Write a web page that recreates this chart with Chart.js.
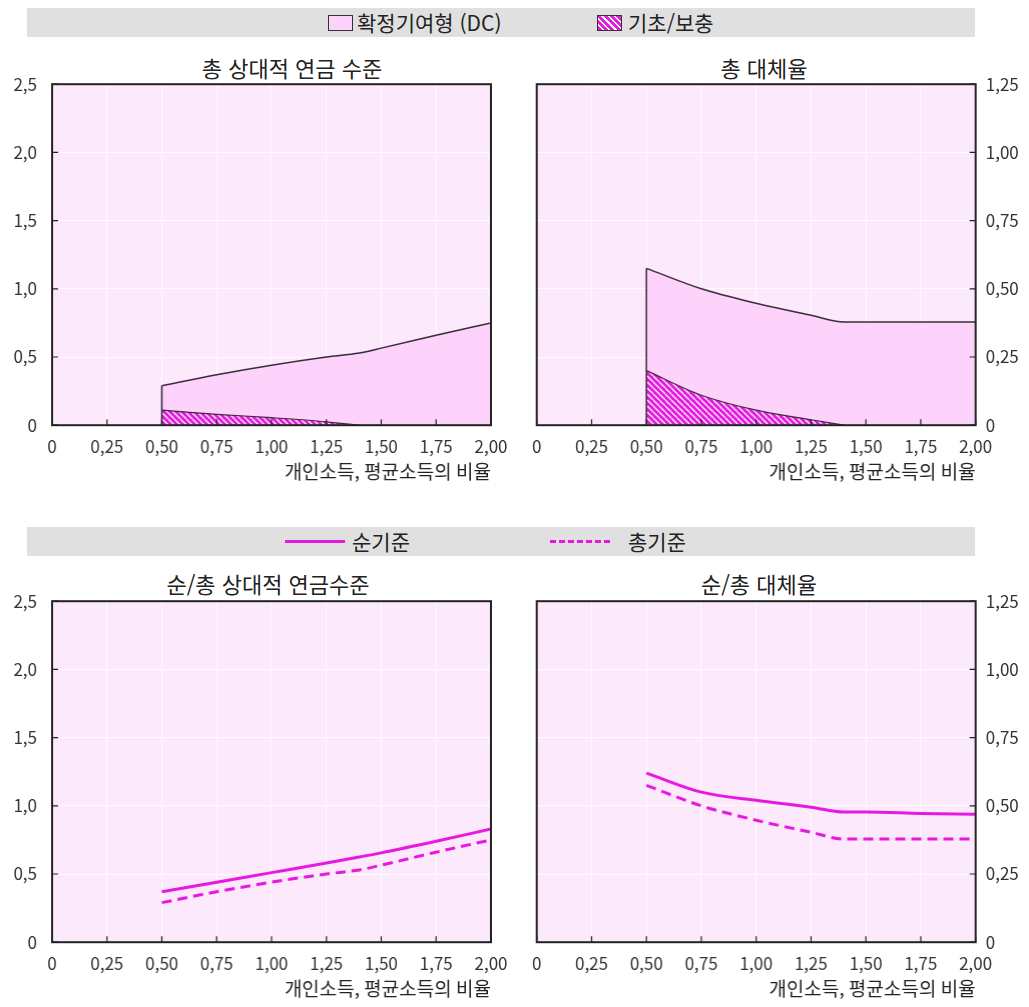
<!DOCTYPE html>
<html lang="ko">
<head>
<meta charset="utf-8">
<script src="https://cdn.jsdelivr.net/npm/chart.js@4.4.1/dist/chart.umd.min.js"></script>
<style>
  body { margin: 0; width: 1029px; height: 1007px; background: #fff; position: relative; overflow: hidden;
         font-family: "Noto Sans CJK KR", "Noto Sans", sans-serif; color: #222; }
  .band { position: absolute; left: 27px; width: 948px; height: 29px; background: #e0e0e0; }
  .lg { position: absolute; top: 0; height: 29px; line-height: 29px; font-size: 21px; white-space: nowrap; }
  .box { position: absolute; top: 7px; width: 23px; height: 14px; border: 1px solid #333; }
  .dc { background: #fdd3fb; }
  .hatch { background: repeating-linear-gradient(45deg, #e21fdc 0 3px, #fff 3px 4.5px); }
  .ln { position: absolute; top: 13px; width: 60px; height: 0; }
  .title { position: absolute; width: 438px; text-align: center; font-size: 22px; line-height: 26px; }
  .wrap { position: absolute; }
</style>
</head>
<body>
<div class="band" style="top:8px">
  <div class="box dc" style="left:301px"></div>
  <div class="lg" style="left:330px">확정기여형 (DC)</div>
  <div class="box hatch" style="left:570px"></div>
  <div class="lg" style="left:601px">기초/보충</div>
</div>
<div class="band" style="top:527px">
  <div class="ln" style="left:258px;border-top:3px solid #e619e0"></div>
  <div class="lg" style="left:325px">순기준</div>
  <div class="ln" style="left:523px;border-top:3px dashed #e619e0"></div>
  <div class="lg" style="left:601px">총기준</div>
</div>

<div class="title" style="left:73px;top:54px">총 상대적 연금 수준</div>
<div class="title" style="left:545px;top:54px">총 대체율</div>
<div class="title" style="left:49px;top:570px">순/총 상대적 연금수준</div>
<div class="title" style="left:540px;top:570px">순/총 대체율</div>

<div class="wrap" id="w1" style="left:0;top:74px;width:500px;height:411px"><canvas id="c1"></canvas></div>
<div class="wrap" id="w2" style="left:527px;top:74px;width:502px;height:411px"><canvas id="c2"></canvas></div>
<div class="wrap" id="w3" style="left:0;top:591px;width:500px;height:411px"><canvas id="c3"></canvas></div>
<div class="wrap" id="w4" style="left:527px;top:591px;width:502px;height:411px"><canvas id="c4"></canvas></div>

<script>
// 개인소득 (평균소득 대비)
const incomeX = [0.5, 0.75, 1.0, 1.25, 1.4, 1.5, 1.75, 2.0];

// 총 상대적 연금 수준
const grossLevel = [0.29, 0.37, 0.44, 0.50, 0.53, 0.565, 0.66, 0.75];
const basicLevel = [0.11, 0.08, 0.055, 0.025, 0];
// 총 대체율
const grossRate = [0.575, 0.50, 0.447, 0.403, 0.378, 0.378, 0.378, 0.378];
const basicRate = [0.20, 0.11, 0.055, 0.02, 0];
// 순기준
const netLevel = [0.37, 0.44, 0.51, 0.58, 0.625, 0.655, 0.74, 0.83];
const netRate = [0.62, 0.55, 0.52, 0.495, 0.477, 0.477, 0.472, 0.469];

const xTicks = [0, 0.25, 0.5, 0.75, 1.0, 1.25, 1.5, 1.75, 2.0];
const levelTicks = [0, 0.5, 1.0, 1.5, 2.0, 2.5];
const rateTicks = [0, 0.25, 0.5, 0.75, 1.0, 1.25];

const MAGENTA = '#e619e0';
const DC_FILL = '#fdd3fb';
const PLOT_BG = '#fde9fc';
const EDGE = '#3a2b3a';
const FONT = '"Noto Sans CJK KR", "Noto Sans", sans-serif';

const pts = (xs, ys) => ys.map((y, i) => ({ x: xs[i], y }));
const comma = (v, d) => v === 0 ? '0' : v.toFixed(d).replace('.', ',');

function hatchPattern() {
  const c = document.createElement('canvas');
  c.width = 6; c.height = 6;
  const g = c.getContext('2d');
  g.fillStyle = MAGENTA;
  g.fillRect(0, 0, 6, 6);
  g.strokeStyle = '#ffffff';
  g.lineWidth = 1.3;
  for (let k = -6; k <= 12; k += 6) {
    g.beginPath();
    g.moveTo(k, 0);
    g.lineTo(k + 6, 6);
    g.stroke();
  }
  return g.createPattern(c, 'repeat');
}

const plotBg = {
  id: 'plotBg',
  beforeDraw(chart) {
    const { ctx, chartArea: a } = chart;
    ctx.save();
    ctx.fillStyle = PLOT_BG;
    ctx.fillRect(a.left, a.top, a.width, a.height);
    ctx.restore();
  }
};

const frame = {
  id: 'frame',
  afterDatasetsDraw(chart) {
    const { ctx, chartArea: a, scales } = chart;
    ctx.save();
    ctx.strokeStyle = '#222';
    ctx.lineWidth = 1.2;
    // inward ticks
    ctx.beginPath();
    scales.x.ticks.forEach(t => {
      const px = scales.x.getPixelForValue(t.value);
      ctx.moveTo(px, a.bottom);
      ctx.lineTo(px, a.bottom - 6);
    });
    const onRight = scales.y.position === 'right';
    scales.y.ticks.forEach(t => {
      const py = scales.y.getPixelForValue(t.value);
      const ex = onRight ? a.right : a.left;
      ctx.moveTo(ex, py);
      ctx.lineTo(onRight ? ex - 6 : ex + 6, py);
    });
    ctx.stroke();
    ctx.lineWidth = 2;
    ctx.strokeRect(a.left, a.top, a.width, a.height);
    ctx.restore();
  }
};

function makeOptions(side, yMax, yTicks, yDec) {
  return {
    responsive: true,
    maintainAspectRatio: false,
    animation: false,
    layout: { padding: 0 },
    plugins: { legend: { display: false }, tooltip: { enabled: false } },
    elements: { point: { radius: 0 } },
    scales: {
      x: {
        type: 'linear', min: 0, max: 2,
        afterBuildTicks: s => { s.ticks = xTicks.map(v => ({ value: v })); },
        afterFit: s => { s.height = 62; },
        grid: { color: 'rgba(255,255,255,0.85)', drawTicks: false },
        border: { display: false },
        ticks: { padding: 11, color: '#333', font: { family: FONT, size: 17 },
                 callback: v => comma(v, 2) },
        title: { display: true, align: 'end', text: '개인소득, 평균소득의 비율', color: '#222',
                 padding: { top: 0 }, font: { family: FONT, size: 19 } }
      },
      y: {
        type: 'linear', position: side, min: 0, max: yMax,
        afterBuildTicks: s => { s.ticks = yTicks.map(v => ({ value: v })); },
        afterFit: s => { s.width = side === 'left' ? 52 : 54; },
        grid: { color: 'rgba(255,255,255,0.85)', drawTicks: false },
        border: { display: false },
        ticks: { padding: side === 'left' ? 15 : 10, color: '#333', font: { family: FONT, size: 17 },
                 callback: v => comma(v, yDec) }
      }
    }
  };
}

// move the wrapper so the plot area lands on the target box
function place(chart, wrapId, box) {
  const w = document.getElementById(wrapId);
  const a = chart.chartArea;
  const W = w.clientWidth, H = w.clientHeight;
  const left = box[0] - a.left, top = box[1] - a.top;
  w.style.left = left + 'px';
  w.style.top = top + 'px';
  w.style.width = (box[2] + (W - a.right) - left) + 'px';
  w.style.height = (box[3] + (H - a.bottom) - top) + 'px';
  chart.resize();
}

function areaChart(id, side, yMax, yTicks, yDec, total, basic) {
  return new Chart(document.getElementById(id), {
    type: 'line',
    data: {
      datasets: [
        { data: [{ x: incomeX[0], y: 0 }, { x: incomeX[0], y: total[0] }],
          borderColor: EDGE, borderWidth: 1.5, fill: false, order: 0 },
        { data: pts(incomeX, basic), borderColor: EDGE, borderWidth: 1.2,
          backgroundColor: hatchPattern(), fill: 'origin', cubicInterpolationMode: 'monotone', order: 1 },
        { data: pts(incomeX, total), borderColor: EDGE, borderWidth: 1.5,
          backgroundColor: DC_FILL, fill: 'origin', cubicInterpolationMode: 'monotone', order: 2 }
      ]
    },
    options: makeOptions(side, yMax, yTicks, yDec),
    plugins: [plotBg, frame]
  });
}

function lineChart(id, side, yMax, yTicks, yDec, net, gross) {
  return new Chart(document.getElementById(id), {
    type: 'line',
    data: {
      datasets: [
        { label: '순기준', data: pts(incomeX, net), borderColor: MAGENTA, borderWidth: 3,
          fill: false, cubicInterpolationMode: 'monotone' },
        { label: '총기준', data: pts(incomeX, gross), borderColor: MAGENTA, borderWidth: 3,
          borderDash: [10, 6], fill: false, cubicInterpolationMode: 'monotone' }
      ]
    },
    options: makeOptions(side, yMax, yTicks, yDec),
    plugins: [plotBg, frame]
  });
}

const c1 = areaChart('c1', 'left', 2.5, levelTicks, 1, grossLevel, basicLevel);
const c2 = areaChart('c2', 'right', 1.25, rateTicks, 2, grossRate, basicRate);
const c3 = lineChart('c3', 'left', 2.5, levelTicks, 1, netLevel, grossLevel);
const c4 = lineChart('c4', 'right', 1.25, rateTicks, 2, netRate, grossRate);

place(c1, 'w1', [52, 84, 490, 425]);
place(c2, 'w2', [537, 84, 975, 425]);
place(c3, 'w3', [52, 601, 490, 942]);
place(c4, 'w4', [537, 601, 975, 942]);
</script>
</body>
</html>
